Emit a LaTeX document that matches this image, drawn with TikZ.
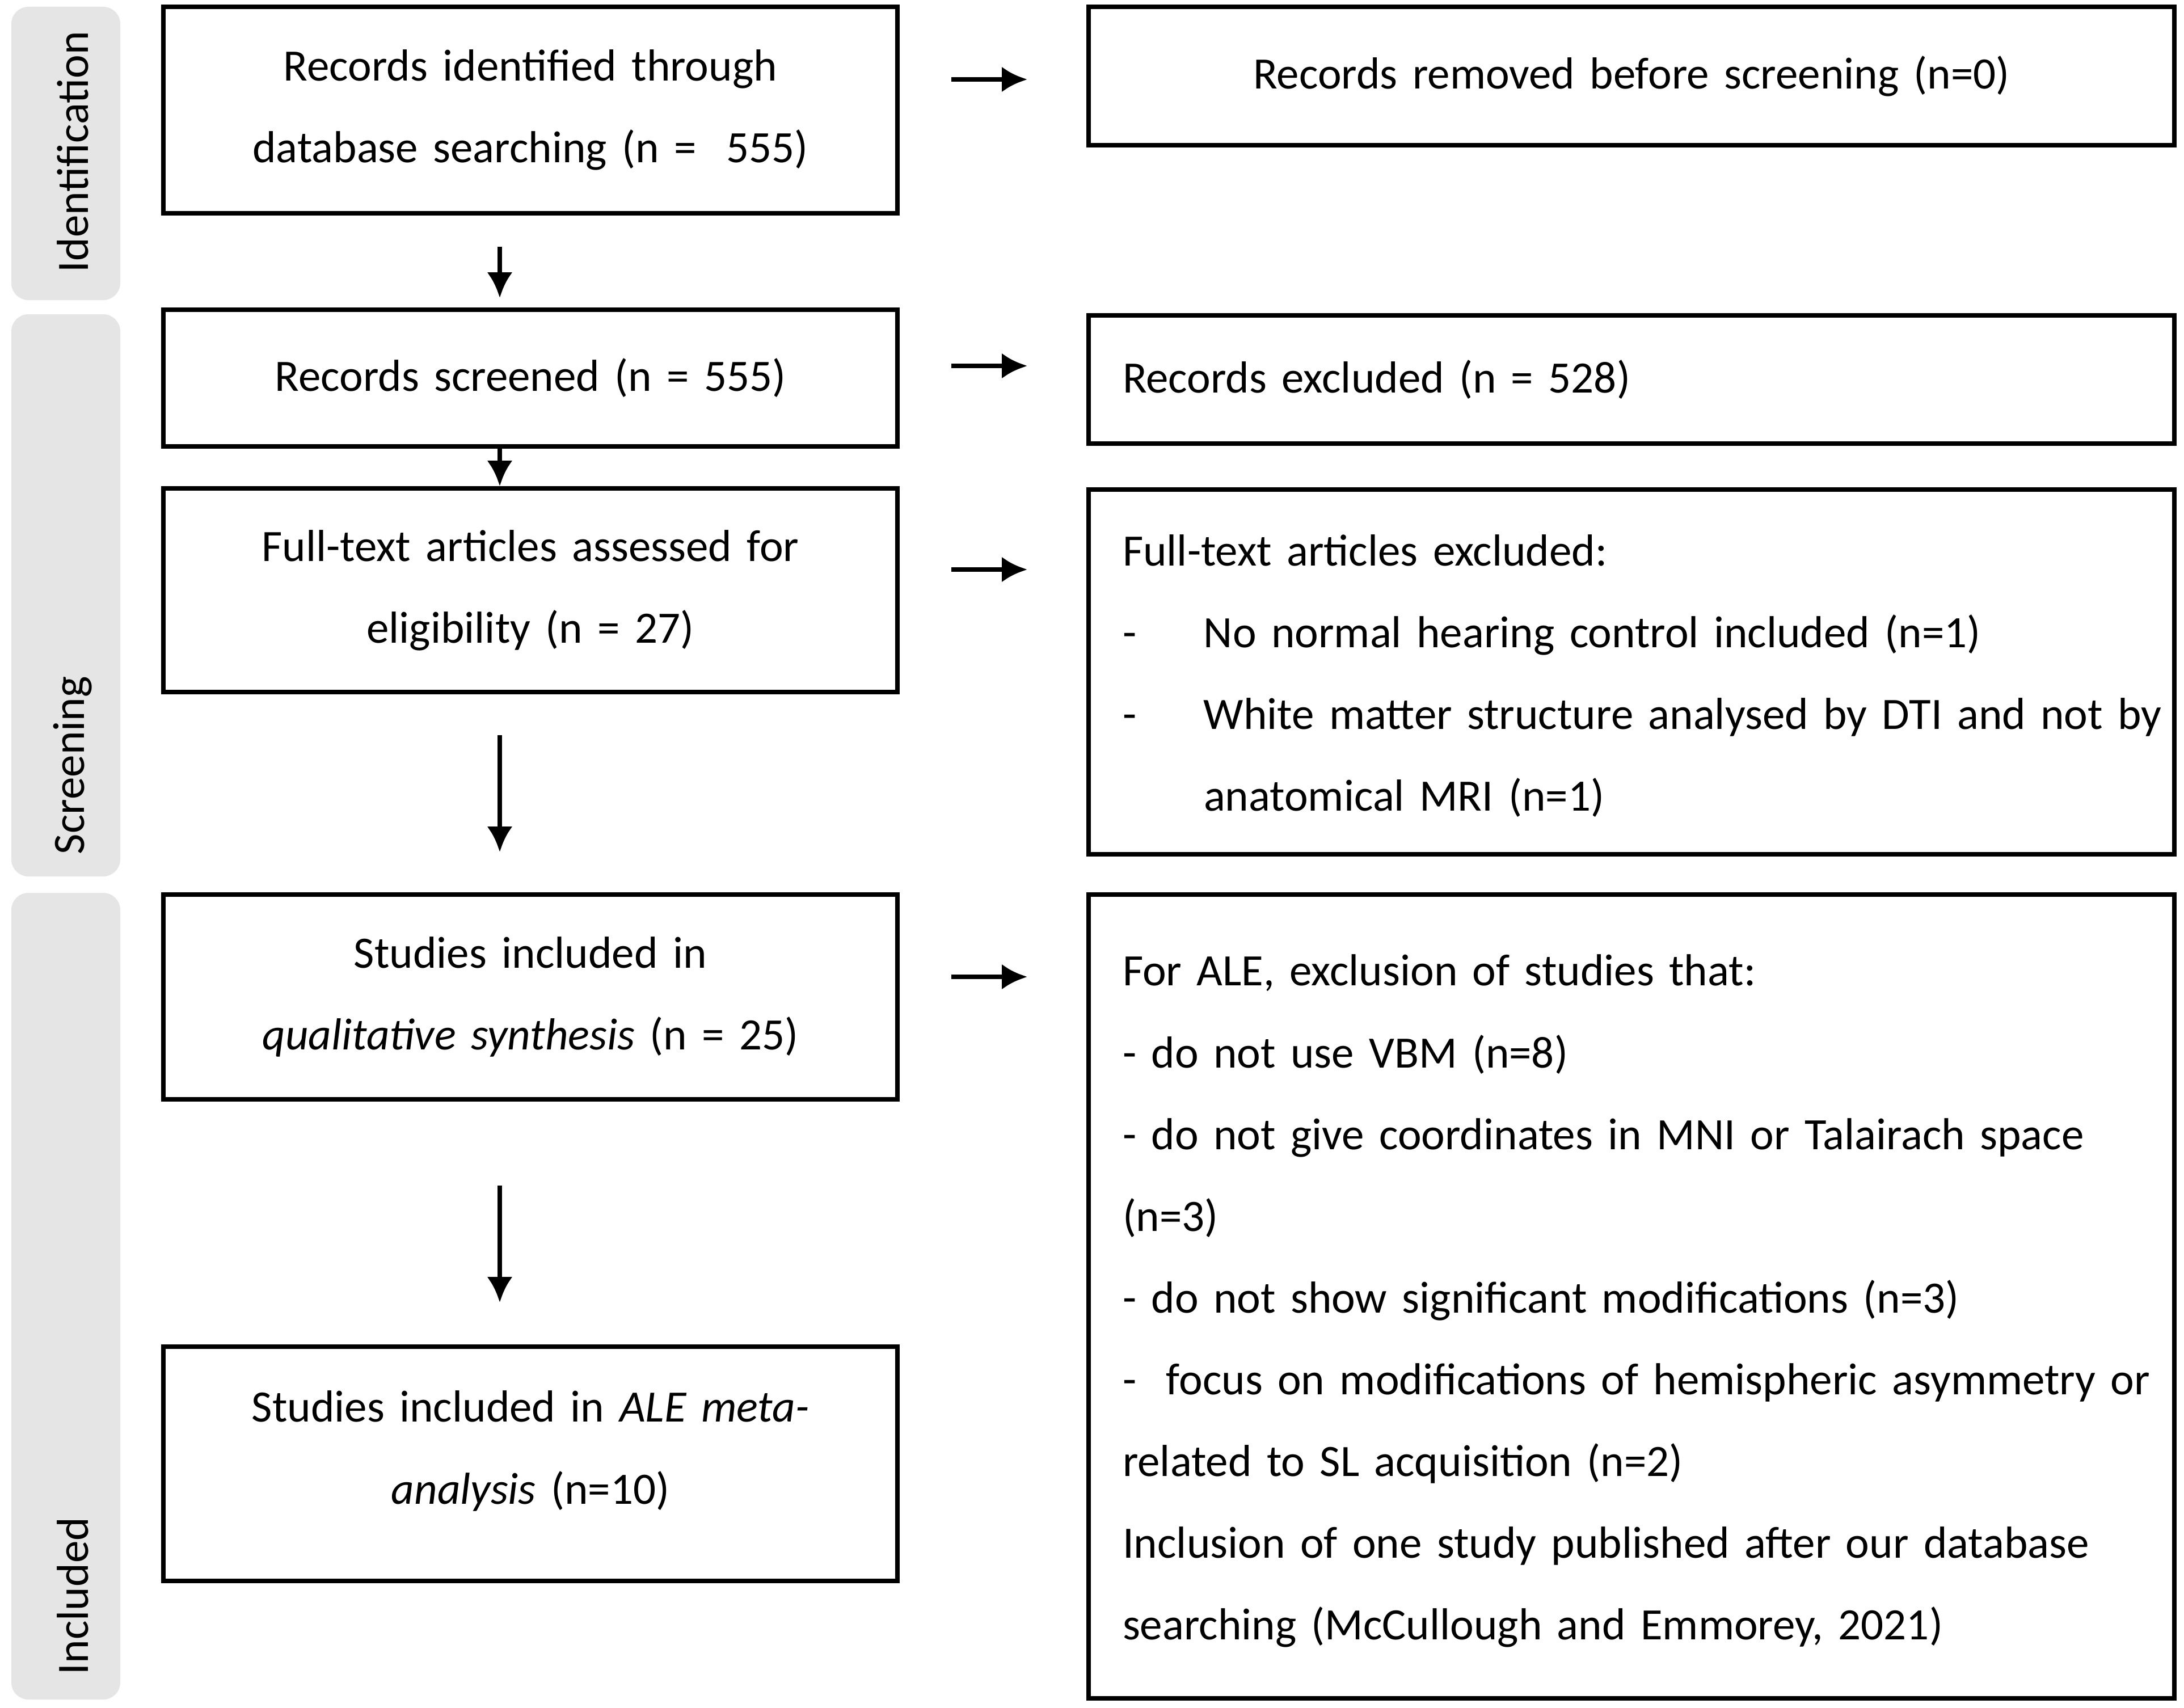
\documentclass[tikz,border=0pt]{standalone}
\usepackage{fontspec}
\setmainfont{Carlito}
\usetikzlibrary{positioning}
\usetikzlibrary{calc}
\usetikzlibrary{arrows.meta}

\newcommand{\dashitem}{\makebox[1.43cm][l]{-}}

\tikzset{
  txt/.style={font=\fontsize{22.5}{41}\selectfont},
  lbox/.style={txt, draw, line width=2.2pt, text width=12cm, inner xsep=0.47cm, align=center},
  rbox/.style={txt, draw, line width=2.2pt, text width=17.94cm, inner xsep=0.6cm, align=left},
  phase/.style={fill=gray!20, rounded corners=0.3cm, minimum width=1.92cm, inner sep=0pt},
  phasetxt/.style={txt, rotate=90, anchor=west, inner sep=0pt},
  arr/.style={-{Latex[length=0.45cm,width=0.45cm]}, line width=2.4pt},
}

\begin{document}
\begin{tikzpicture}
\useasboundingbox (0,0) rectangle (38.5,-30.11);

% phases
\node[phase, minimum height=5.17cm](idbar) at (1.16,-2.705){};
\node[phase, minimum height=9.91cm](scbar) at (1.16,-10.495){};
\node[phase, minimum height=14.22cm](inbar) at (1.16,-22.85){};
\node[phasetxt](idtxt) at ($(idbar.south)+(0.12,0.49)$){Identification};
\node[phasetxt](sctxt) at ($(scbar.south)+(0.12,0.39)$){Screening};
\node[phasetxt](intxt) at ($(inbar.south)+(0.12,0.44)$){Included};

% main column
\node[lbox, minimum height=3.64cm](ident) at (9.35,-1.94){Records identified through\\database searching (n = \ 555)};
\node[lbox, minimum height=2.41cm](screen) at (9.35,-6.665){Records screened (n = 555)};
\node[lbox, minimum height=3.59cm](full) at (9.35,-10.405){Full-text articles assessed for\\eligibility (n = 27)};
\node[lbox, minimum height=3.61cm](qual) at (9.35,-17.575){Studies included in\\\textit{qualitative synthesis} (n = 25)};
\node[lbox, minimum height=4.13cm](ale) at (9.35,-25.805){Studies included in \textit{ALE meta-}\\\textit{analysis} (n=10)\rule[-0.58cm]{0pt}{0.58cm}};

% exclusions
\node[rbox, minimum height=2.44cm, align=center](removed) at (28.76,-1.34){Records removed before screening (n=0)};
\node[rbox, minimum height=2.26cm](excl) at (28.76,-6.69){Records excluded (n = 528)};
\node[rbox, minimum height=6.43cm](fullexcl) at (28.76,-11.845){\begin{tabular}{@{}l@{}}
Full-text articles excluded:\\
\dashitem No normal hearing control included (n=1)\\
\dashitem White matter structure analysed by DTI and not by\\
\hspace*{1.43cm}anatomical MRI (n=1)
\end{tabular}};
\node[rbox, minimum height=14.17cm](aleexcl) at (28.76,-22.855){\begin{tabular}{@{}l@{}}
For ALE, exclusion of studies that:\\
- do not use VBM (n=8)\\
- do not give coordinates in MNI or Talairach space\\
(n=3)\\
- do not show significant modifications (n=3)\\
-\ \ focus on modifications of hemispheric asymmetry or\\
related to SL acquisition (n=2)\\
Inclusion of one study published after our database\\
searching (McCullough and Emmorey, 2021)
\end{tabular}};

\path
([xshift=-0.54cm]ident.south) edge[arr, shorten <=0.55cm, shorten >=0.17cm] ([xshift=-0.54cm]screen.north)
([xshift=-0.54cm]screen.south) edge[arr] ([xshift=-0.54cm]full.north)
([xshift=-0.54cm]full.south) edge[arr, shorten <=0.72cm, shorten >=0.71cm] ([xshift=-0.54cm]qual.north)
([xshift=-0.54cm]qual.south) edge[arr, shorten <=1.48cm, shorten >=0.74cm] ([xshift=-0.54cm]ale.north)
($(ident.east)+(0,0.54)$) edge[arr, shorten <=0.91cm, shorten >=1.04cm] ($(ident.east -| removed.west)+(0,0.54)$)
($(screen.east)+(0,0.215)$) edge[arr, shorten <=0.91cm, shorten >=1.04cm] ($(screen.east -| excl.west)+(0,0.215)$)
($(full.east)+(0,0.365)$) edge[arr, shorten <=0.91cm, shorten >=1.04cm] ($(full.east -| fullexcl.west)+(0,0.365)$)
($(qual.east)+(0,0.355)$) edge[arr, shorten <=0.91cm, shorten >=1.04cm] ($(qual.east -| aleexcl.west)+(0,0.355)$);
\end{tikzpicture}
\end{document}
